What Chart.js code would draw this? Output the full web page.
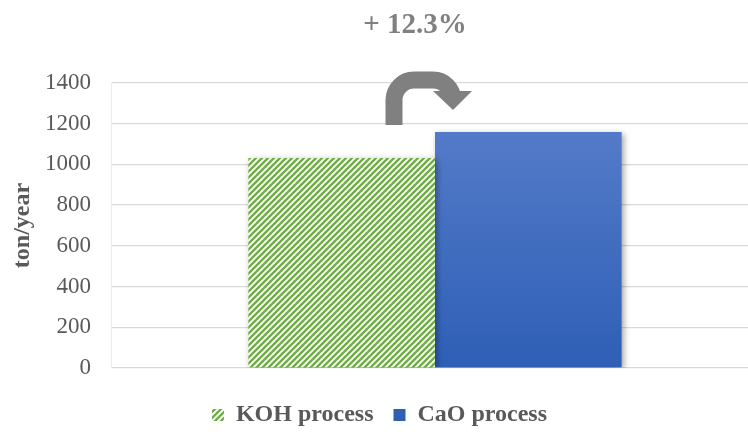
<!DOCTYPE html>
<html>
<head>
<meta charset="utf-8">
<script src="https://cdn.jsdelivr.net/npm/chart.js@4"></script>
<style>
  html, body { margin: 0; padding: 0; background: #fff; overflow: hidden; }
  #wrap { width: 770px; height: 432px; }
</style>
</head>
<body>
<div id="wrap"><canvas id="grafico"></canvas></div>
<script>
// datos
const categorias = [""];
const series = ["KOH process", "CaO process"];
const valores = [1032, 1159];
const ticksY = [0, 200, 400, 600, 800, 1000, 1200, 1400];
const etiquetaCambio = "+ 12.3%";

const fuente = "'Liberation Serif', 'Times New Roman', serif";
const gris = "#595959";
Chart.defaults.font.family = fuente;

// patron rayado verde para KOH
function patronRayas() {
    const c = document.createElement("canvas");
    c.width = 6; c.height = 6;
    const g = c.getContext("2d");
    g.fillStyle = "#ffffff";
    g.fillRect(0, 0, 6, 6);
    g.strokeStyle = "#70ad47";
    g.lineWidth = 2.4;
    g.beginPath();
    g.moveTo(-1, 7); g.lineTo(7, -1);
    g.moveTo(-4, 4); g.lineTo(4, -4);
    g.moveTo(2, 10); g.lineTo(10, 2);
    g.stroke();
    return g.createPattern(c, "repeat");
}

// degradado azul para CaO
function degradadoAzul(ctx) {
    const area = ctx.chart.chartArea;
    if (!area) return "#4472c4";
    const g = ctx.chart.ctx.createLinearGradient(0, area.top, 0, area.bottom);
    g.addColorStop(0, "#5b80cc");
    g.addColorStop(1, "#2e5fb6");
    return g;
}

// sombra de las barras
const sombra = {
    id: "sombra",
    beforeDatasetsDraw(chart) {
        const c = chart.ctx;
        c.save();
        c.shadowColor = "rgba(0,0,0,0.35)";
        c.shadowBlur = 6;
        c.shadowOffsetX = 2;
        c.shadowOffsetY = 2;
    },
    afterDatasetsDraw(chart) {
        chart.ctx.restore();
    }
};

// flecha curva y etiqueta de porcentaje
const flecha = {
    id: "flecha",
    afterDraw(chart) {
        const c = chart.ctx;
        const barra = chart.getDatasetMeta(1).data[0];
        const bx = barra.x - barra.width / 2;
        const top = chart.scales.y.getPixelForValue(valores[1]);
        c.save();
        c.strokeStyle = "#808080";
        c.fillStyle = "#808080";
        c.lineWidth = 17;
        c.lineCap = "butt";
        const xi = bx - 41, xd = bx + 18, yArriba = top - 52;
        c.beginPath();
        c.moveTo(xi, top - 7);
        c.lineTo(xi, yArriba + 20);
        c.arcTo(xi, yArriba, xi + 20, yArriba, 20);
        c.lineTo(xd - 20, yArriba);
        c.arcTo(xd, yArriba, xd, yArriba + 20, 20);
        c.lineTo(xd, top - 40);
        c.stroke();
        c.beginPath();
        c.moveTo(xd - 20, top - 41);
        c.lineTo(xd + 19, top - 41);
        c.lineTo(xd, top - 22);
        c.closePath();
        c.fill();
        c.font = "bold 29px " + fuente;
        c.textAlign = "center";
        c.textBaseline = "alphabetic";
        c.fillText(etiquetaCambio, bx - 20, 33);
        c.restore();
    }
};

const canvas1 = document.getElementById("grafico").getContext("2d");
let chart1 = new Chart(canvas1, {
    type: "bar",
    data: {
        labels: categorias,
        datasets: [
            {
                label: series[0],
                data: [valores[0]],
                backgroundColor: patronRayas(),
                borderWidth: 0
            },
            {
                label: series[1],
                data: [valores[1]],
                backgroundColor: degradadoAzul,
                borderWidth: 0
            }
        ]
    },
    options: {
        responsive: true,
        maintainAspectRatio: false,
        animation: false,
        layout: { padding: { top: 83, right: 11, bottom: -5, left: 0 } },
        datasets: { bar: { categoryPercentage: 0.576, barPercentage: 1.0 } },
        scales: {
            x: {
                display: true,
                grid: { display: false },
                border: { display: false },
                ticks: { display: false },
                afterFit(scale) { scale.height = 15; }
            },
            y: {
                min: 0,
                max: 1400,
                afterBuildTicks(scale) {
                    scale.ticks = ticksY.map(v => ({ value: v }));
                },
                afterFit(scale) { scale.width = 111; },
                grid: { color: "#d9d9d9", lineWidth: 1.3, drawTicks: false },
                border: { display: true, color: "#ececec" },
                ticks: {
                    color: gris,
                    padding: 20,
                    font: { family: fuente, size: 23 },
                    callback: (v) => String(v)
                },
                title: {
                    display: true,
                    text: "ton/year",
                    color: gris,
                    padding: { top: 8, bottom: 0 },
                    font: { family: fuente, size: 24, weight: "bold" }
                }
            }
        },
        plugins: {
            legend: {
                position: "bottom",
                labels: {
                    color: gris,
                    boxWidth: 12,
                    boxHeight: 12,
                    padding: 20,
                    font: { family: fuente, size: 24, weight: "bold" }
                }
            },
            tooltip: { enabled: false }
        }
    },
    plugins: [sombra, flecha]
});
</script>
</body>
</html>
